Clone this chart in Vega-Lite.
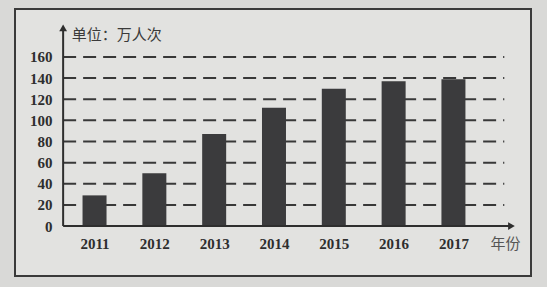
{
  "$schema": "https://vega.github.io/schema/vega-lite/v6.json",
  "width": 516,
  "height": 267,
  "autosize": {"type": "none"},
  "padding": {"left": 15, "top": 9, "right": 16, "bottom": 11},
  "background": "#d9d9d7",
  "config": {
    "view": {"stroke": "#3a3a3a", "strokeWidth": 2, "fill": "#e2e2e0"},
    "axis": {"labelOverlap": false, "labelFlush": false}
  },
  "datasets": {
    "main": [
      {"year": 2011, "value": 29},
      {"year": 2012, "value": 50},
      {"year": 2013, "value": 87},
      {"year": 2014, "value": 112},
      {"year": 2015, "value": 130},
      {"year": 2016, "value": 137},
      {"year": 2017, "value": 139}
    ],
    "grid": [
      {"v": 20}, {"v": 40}, {"v": 60}, {"v": 80},
      {"v": 100}, {"v": 120}, {"v": 140}, {"v": 160}
    ],
    "one": [{}]
  },
  "layer": [
    {
      "data": {"name": "grid"},
      "mark": {"type": "rule", "strokeDash": [13, 7], "strokeWidth": 2, "color": "#383838"},
      "encoding": {
        "y": {"field": "v", "type": "quantitative", "title": null},
        "x": {"datum": 2010.475, "type": "quantitative", "title": null},
        "x2": {"datum": 2017.85}
      }
    },
    {
      "data": {"name": "main"},
      "mark": {"type": "bar", "width": 24, "color": "#3b3b3d"},
      "encoding": {
        "x": {
          "field": "year", "type": "quantitative",
          "scale": {"domain": [2009.754, 2018.213], "nice": false, "zero": false},
          "axis": {
            "values": [2011, 2012, 2013, 2014, 2015, 2016, 2017], "tickCount": 30,
            "format": "d", "offset": -50, "domain": false, "ticks": false, "grid": false,
            "labelPadding": 10, "labelFlush": false, "labelOverlap": false,
            "labelFont": "Liberation Serif", "labelFontWeight": "bold", "labelFontSize": 15,
            "labelColor": "#2e2e2e", "title": null
          }
        },
        "y": {
          "field": "value", "type": "quantitative",
          "scale": {"domain": [-47.3, 205.4], "nice": false, "zero": false},
          "axis": {
            "values": [0, 20, 40, 60, 80, 100, 120, 140, 160], "tickCount": 30,
            "offset": -44, "domain": false, "ticks": false, "grid": false,
            "labelPadding": 7, "labelFlush": false, "labelOverlap": false,
            "labelFont": "Liberation Serif", "labelFontWeight": "bold", "labelFontSize": 15,
            "labelColor": "#2e2e2e", "title": null
          }
        },
        "y2": {"datum": 0}
      }
    },
    {
      "data": {"name": "one"},
      "mark": {"type": "rule", "strokeWidth": 2, "color": "#2e2e2e"},
      "encoding": {
        "x": {"datum": 2010.475, "type": "quantitative", "title": null},
        "y": {"datum": 0, "type": "quantitative", "title": null},
        "y2": {"datum": 186}
      }
    },
    {
      "data": {"name": "one"},
      "mark": {"type": "rule", "strokeWidth": 2, "color": "#2e2e2e"},
      "encoding": {
        "x": {"datum": 2010.475, "type": "quantitative", "title": null},
        "x2": {"datum": 2017.93},
        "y": {"datum": 0, "type": "quantitative", "title": null}
      }
    },
    {
      "data": {"name": "one"},
      "mark": {"type": "point", "shape": "triangle-up", "filled": true, "size": 60, "color": "#2e2e2e", "opacity": 1},
      "encoding": {
        "x": {"datum": 2010.475, "type": "quantitative", "title": null},
        "y": {"datum": 187.5, "type": "quantitative", "title": null}
      }
    },
    {
      "data": {"name": "one"},
      "mark": {"type": "point", "shape": "triangle-right", "filled": true, "size": 60, "color": "#2e2e2e", "opacity": 1},
      "encoding": {
        "x": {"datum": 2017.97, "type": "quantitative", "title": null},
        "y": {"datum": 0, "type": "quantitative", "title": null}
      }
    },
    {
      "data": {"name": "one"},
      "mark": {"type": "text", "align": "left", "baseline": "middle", "font": "Noto Sans CJK SC", "fontSize": 15, "color": "#3a3a3a", "text": "单位：万人次"},
      "encoding": {
        "x": {"datum": 2010.62, "type": "quantitative", "title": null},
        "y": {"datum": 180.8, "type": "quantitative", "title": null}
      }
    },
    {
      "data": {"name": "one"},
      "mark": {"type": "text", "align": "left", "baseline": "middle", "font": "Noto Sans CJK SC", "fontSize": 15, "color": "#555555", "text": "年份"},
      "encoding": {
        "x": {"datum": 2017.62, "type": "quantitative", "title": null},
        "y": {"datum": -17, "type": "quantitative", "title": null}
      }
    }
  ]
}
